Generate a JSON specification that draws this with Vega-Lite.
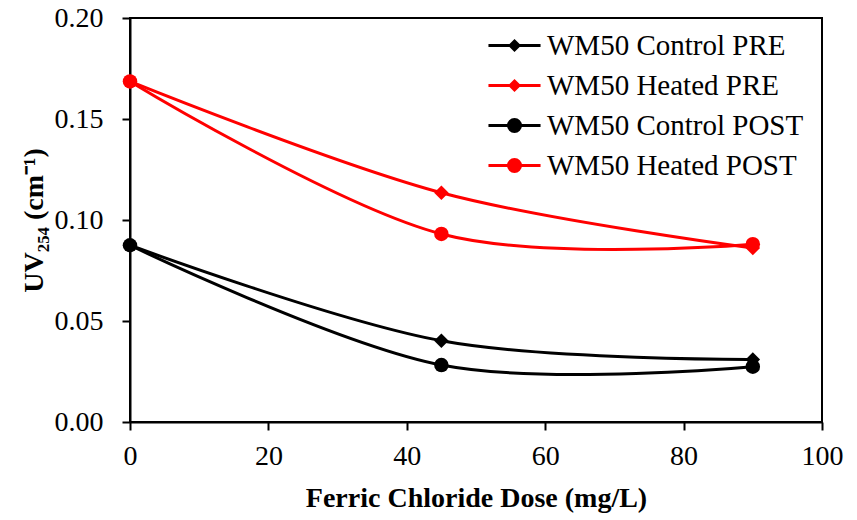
{
  "$schema": "https://vega.github.io/schema/vega-lite/v6.json",
  "width": 692,
  "height": 404,
  "autosize": "none",
  "padding": {"left": 130, "top": 18, "right": 35, "bottom": 98},
  "background": "white",
  "config": {
    "font": "Liberation Serif",
    "view": {"stroke": "black", "strokeWidth": 2},
    "axis": {
      "grid": false,
      "domainColor": "black",
      "domainWidth": 2,
      "tickColor": "black",
      "tickWidth": 2,
      "labelFont": "Liberation Serif",
      "labelFontSize": 28,
      "labelColor": "black",
      "titleFont": "Liberation Serif",
      "titleFontSize": 28,
      "titleFontWeight": "bold",
      "titleColor": "black"
    },
    "legend": {
      "title": null,
      "orient": "none",
      "padding": 0,
      "labelFont": "Liberation Serif",
      "labelFontSize": 29,
      "labelColor": "black",
      "labelLimit": 500,
      "labelOffset": 18,
      "symbolSize": 576,
      "symbolStrokeWidth": 3,
      "symbolOpacity": 1
    }
  },
  "data": {
    "values": [
      {"s": "WM50 Control PRE", "x": 0, "y": 0.0875},
      {"s": "WM50 Control PRE", "x": 45, "y": 0.0402},
      {"s": "WM50 Control PRE", "x": 90, "y": 0.0310},
      {"s": "WM50 Heated PRE", "x": 0, "y": 0.1686},
      {"s": "WM50 Heated PRE", "x": 45, "y": 0.1135},
      {"s": "WM50 Heated PRE", "x": 90, "y": 0.0861},
      {"s": "WM50 Control POST", "x": 0, "y": 0.0875},
      {"s": "WM50 Control POST", "x": 45, "y": 0.0282},
      {"s": "WM50 Control POST", "x": 90, "y": 0.0274},
      {"s": "WM50 Heated POST", "x": 0, "y": 0.1686},
      {"s": "WM50 Heated POST", "x": 45, "y": 0.0931},
      {"s": "WM50 Heated POST", "x": 90, "y": 0.0880}
    ]
  },
  "encoding": {
    "x": {
      "field": "x",
      "type": "quantitative",
      "scale": {"domain": [0, 100], "nice": false, "zero": false},
      "axis": {
        "title": "Ferric Chloride Dose (mg/L)",
        "values": [0, 20, 40, 60, 80, 100],
        "tickSize": 8,
        "labelPadding": 12,
        "titlePadding": 14,
        "labelFlush": false
      }
    },
    "y": {
      "field": "y",
      "type": "quantitative",
      "scale": {"domain": [0, 0.2], "nice": false},
      "axis": {
        "title": "UV₂₅₄ (cm⁻¹)",
        "values": [0, 0.05, 0.1, 0.15, 0.2],
        "format": ".2f",
        "tickSize": 8,
        "labelPadding": 19,
        "titlePadding": 6,
        "labelFlush": false
      }
    }
  },
  "layer": [
    {
      "mark": {"type": "line", "interpolate": "cardinal", "strokeWidth": 3},
      "encoding": {
        "color": {
          "field": "s",
          "type": "nominal",
          "scale": {
            "domain": ["WM50 Control PRE", "WM50 Heated PRE", "WM50 Control POST", "WM50 Heated POST"],
            "range": ["black", "#ff0000", "black", "#ff0000"]
          },
          "legend": null
        }
      }
    },
    {
      "mark": {"type": "point", "filled": true, "opacity": 1},
      "encoding": {
        "color": {
          "field": "s",
          "type": "nominal",
          "scale": {
            "domain": ["WM50 Control PRE", "WM50 Heated PRE", "WM50 Control POST", "WM50 Heated POST"],
            "range": ["black", "#ff0000", "black", "#ff0000"]
          },
          "legend": null
        },
        "shape": {
          "field": "s",
          "type": "nominal",
          "scale": {
            "domain": ["WM50 Control PRE", "WM50 Heated PRE", "WM50 Control POST", "WM50 Heated POST"],
            "range": ["diamond", "diamond", "circle", "circle"]
          },
          "legend": null
        },
        "size": {"value": 210}
      }
    },
    {
      "transform": [{"filter": "false"}],
      "mark": {"type": "point", "filled": false, "color": "black", "strokeWidth": 3, "opacity": 1},
      "encoding": {
        "shape": {
          "field": "s",
          "type": "nominal",
          "scale": {"domain": ["WM50 Control PRE"], "range": ["M-2.17,0H2.17M0,-0.375L0.375,0L0,0.375L-0.375,0ZM0,-0.17L0.17,0L0,0.17L-0.17,0Z"]},
          "legend": {"legendX": 370, "legendY": 13}
        }
      }
    },
    {
      "transform": [{"filter": "false"}],
      "mark": {"type": "point", "filled": false, "color": "#ff0000", "strokeWidth": 3, "opacity": 1},
      "encoding": {
        "shape": {
          "field": "s",
          "type": "nominal",
          "scale": {"domain": ["WM50 Heated PRE"], "range": ["M-2.17,0H2.17M0,-0.375L0.375,0L0,0.375L-0.375,0ZM0,-0.17L0.17,0L0,0.17L-0.17,0Z"]},
          "legend": {"legendX": 370, "legendY": 53}
        }
      }
    },
    {
      "transform": [{"filter": "false"}],
      "mark": {"type": "point", "filled": false, "color": "black", "strokeWidth": 3, "opacity": 1},
      "encoding": {
        "shape": {
          "field": "s",
          "type": "nominal",
          "scale": {"domain": ["WM50 Control POST"], "range": ["M-2.17,0H2.17M0.5,0A0.5,0.5 0 1,1 -0.5,0A0.5,0.5 0 1,1 0.5,0ZM0.29,0A0.29,0.29 0 1,1 -0.29,0A0.29,0.29 0 1,1 0.29,0ZM0.08,0A0.08,0.08 0 1,1 -0.08,0A0.08,0.08 0 1,1 0.08,0Z"]},
          "legend": {"legendX": 370, "legendY": 93}
        }
      }
    },
    {
      "transform": [{"filter": "false"}],
      "mark": {"type": "point", "filled": false, "color": "#ff0000", "strokeWidth": 3, "opacity": 1},
      "encoding": {
        "shape": {
          "field": "s",
          "type": "nominal",
          "scale": {"domain": ["WM50 Heated POST"], "range": ["M-2.17,0H2.17M0.5,0A0.5,0.5 0 1,1 -0.5,0A0.5,0.5 0 1,1 0.5,0ZM0.29,0A0.29,0.29 0 1,1 -0.29,0A0.29,0.29 0 1,1 0.29,0ZM0.08,0A0.08,0.08 0 1,1 -0.08,0A0.08,0.08 0 1,1 0.08,0Z"]},
          "legend": {"legendX": 370, "legendY": 133}
        }
      }
    }
  ],
  "resolve": {"scale": {"shape": "independent"}, "legend": {"shape": "independent"}}
}
